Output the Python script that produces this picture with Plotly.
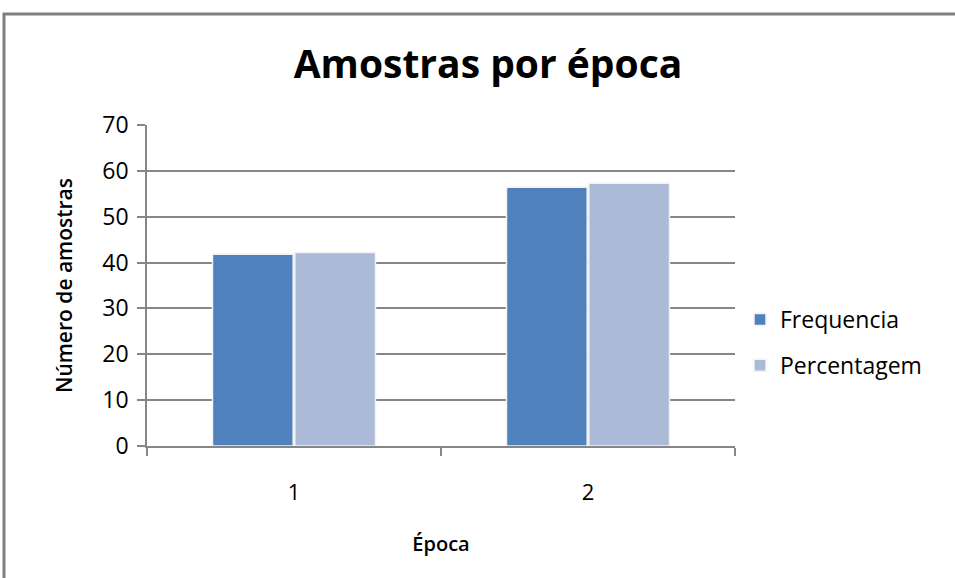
import plotly.graph_objects as go

# Samples per epoch, two series
epocas = ["1", "2"]
frequencia = [41.8, 56.4]
percentagem = [42.2, 57.3]
y_ticks = [0, 10, 20, 30, 40, 50, 60, 70]

W, H = 955, 578
L, R, T, B = 147, 735, 125, 446  # plot area edges in pixels

font_family = "'Open Sans', Lato, sans-serif"
grid_col = "#868686"

fig = go.Figure()
fig.add_trace(go.Bar(
    x=epocas, y=frequencia, name="Frequencia", legendgroup="a",
    marker=dict(color="#4F81BD", line=dict(color="#F2F2F2", width=1.5)),
))
fig.add_trace(go.Bar(
    x=epocas, y=percentagem, name="Percentagem", legendgroup="b",
    marker=dict(color="#AABAD7", line=dict(color="#F2F2F2", width=1.5)),
))

pw, ph = R - L, B - T
fig.update_layout(
    width=W, height=H,
    margin=dict(l=L, r=W - R, t=T, b=H - B),
    paper_bgcolor="white", plot_bgcolor="white",
    barmode="group", bargap=0.44, bargroupgap=0.02,
    font=dict(family=font_family, color="#000000"),
    title=dict(text="<b>Amostras por época</b>", x=488 / W, xanchor="center",
               y=1 - 64 / H, yanchor="middle",
               font=dict(size=39, family=font_family, color="#000000")),
    xaxis=dict(
        showline=True, linecolor=grid_col, linewidth=1.5,
        ticks="outside", ticklen=8, tickcolor=grid_col, tickwidth=1.5,
        tickson="boundaries", ticklabelstandoff=26,
        tickfont=dict(size=22, family=font_family),
        title=dict(text="Época", font=dict(size=20, family=font_family, weight=600),
                   standoff=32),
        showgrid=False, fixedrange=True,
    ),
    yaxis=dict(
        range=[0, 70], tickvals=y_ticks,
        showline=True, linecolor=grid_col, linewidth=1.5,
        ticks="outside", ticklen=8, tickcolor=grid_col, tickwidth=1.5,
        showgrid=True, gridcolor=grid_col, gridwidth=1.5,
        zeroline=False, ticklabelstandoff=4,
        tickfont=dict(size=23, family=font_family),
        title=dict(text="Número de amostras",
                   font=dict(size=21, family=font_family, weight=600), standoff=24),
    ),
    legend=dict(
        x=(740 - L) / pw, xanchor="left", y=(B - 298) / ph, yanchor="top",
        font=dict(size=23, family=font_family), tracegroupgap=13,
        traceorder="grouped", bgcolor="rgba(0,0,0,0)",
    ),
    shapes=[dict(
        type="rect", xref="paper", yref="paper",
        x0=(4 - L) / pw, x1=(W + 20 - L) / pw,
        y0=(B - (H + 20)) / ph, y1=(B - 14) / ph,
        line=dict(color="#808080", width=3), fillcolor="rgba(0,0,0,0)", layer="below",
    )],
)

fig.write_html("out.html")
